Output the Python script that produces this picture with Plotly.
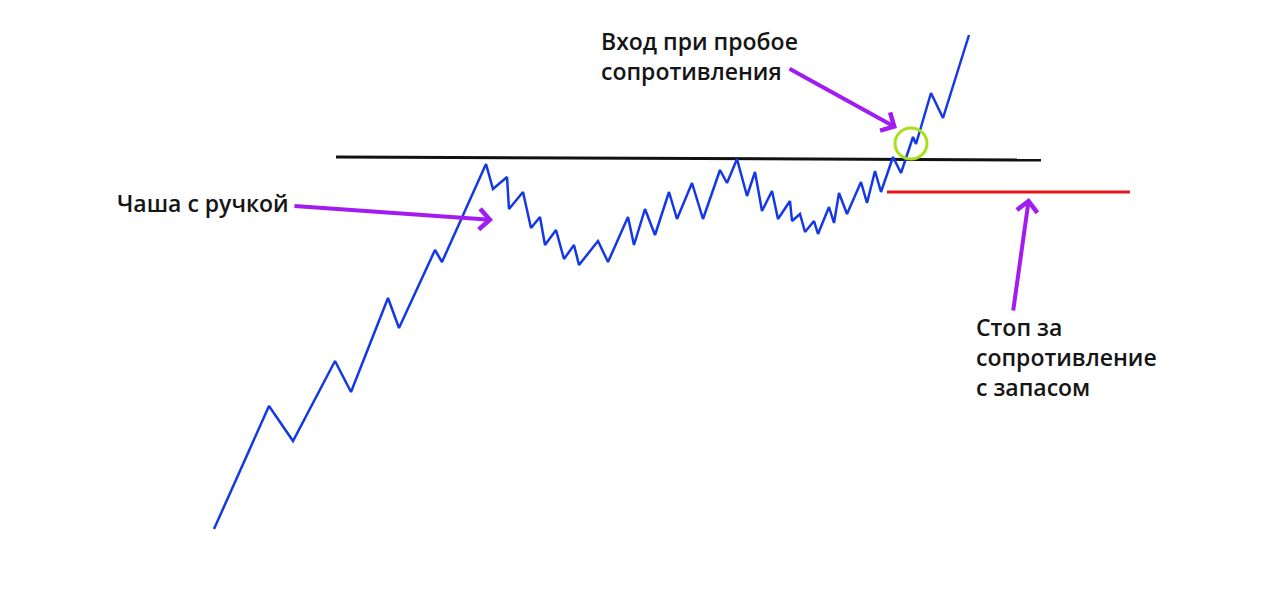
import plotly.graph_objects as go

# Price path vertices (chart pixel units)
price_x = [214, 269, 293, 335, 351, 388, 399, 435, 442, 486, 493, 507, 509, 523, 531, 540, 545,
           556, 564, 574, 579, 598, 608, 628, 634, 645, 655, 669, 677, 692, 703, 720, 727, 737,
           747, 755, 762, 772, 778, 790, 792, 800, 805, 814, 818, 829, 834, 839, 847, 861, 867,
           875, 881, 893, 901, 913, 916, 931, 943, 969]
price_y = [529, 406, 441, 361, 392, 298, 328, 250, 262, 164, 189, 177, 209, 192, 228, 217, 245,
           230, 259, 245, 265, 241, 262, 217, 245, 209, 235, 192, 219, 183, 219, 170, 183, 159,
           196, 172, 211, 191, 219, 201, 221, 214, 232, 221, 234, 207, 223, 193, 214, 182, 203,
           171, 192, 157, 173, 137, 144, 93, 118, 35]

resist_x = [336, 1041]
resist_y = [157, 160]
stop_x = [887, 1130]
stop_y = [192, 192]

label_cup = "Чаша с ручкой"
label_entry = ["Вход при пробое", "сопротивления"]
label_stop = ["Стоп за", "сопротивление", "с запасом"]

BLUE = "#1438e6"
PURPLE = "#a21cf2"
FONT = "Open Sans"

fig = go.Figure()
fig.add_trace(go.Scatter(x=resist_x, y=resist_y, mode="lines",
                         line=dict(color="#111111", width=3), hoverinfo="skip"))
fig.add_trace(go.Scatter(x=stop_x, y=stop_y, mode="lines",
                         line=dict(color="#e8141c", width=3), hoverinfo="skip"))
fig.add_trace(go.Scatter(x=price_x, y=price_y, mode="lines",
                         line=dict(color=BLUE, width=2.5), hoverinfo="skip"))

# breakout circle
fig.add_shape(type="circle", xref="x", yref="y", x0=895, x1=927, y0=128, y1=159,
              line=dict(color="#a6e01a", width=3))

# arrows
arrows = [((293, 206), (493, 220)),
          ((788, 68), (897, 128)),
          ((1013, 312), (1029, 198))]
for (tx, ty), (hx, hy) in arrows:
    fig.add_annotation(x=hx, y=hy, ax=tx, ay=ty, xref="x", yref="y", axref="x", ayref="y",
                       text="", showarrow=True, arrowhead=4, arrowsize=1.0,
                       arrowwidth=4, arrowcolor=PURPLE)

textfont = dict(family=FONT, size=23, color="#151515", weight=600)
fig.add_annotation(x=115, y=203, xref="x", yref="y", text=label_cup, showarrow=False,
                   xanchor="left", yanchor="middle", font=textfont)
for i, t in enumerate(label_entry):
    fig.add_annotation(x=599, y=41 + 30 * i, xref="x", yref="y", text=t, showarrow=False,
                       xanchor="left", yanchor="middle", font=textfont)
for i, t in enumerate(label_stop):
    fig.add_annotation(x=974, y=327 + 30 * i, xref="x", yref="y", text=t, showarrow=False,
                       xanchor="left", yanchor="middle", font=textfont)

fig.update_layout(width=1280, height=606, margin=dict(l=0, r=0, t=0, b=0),
                  paper_bgcolor="white", plot_bgcolor="white", showlegend=False,
                  xaxis=dict(range=[0, 1280], visible=False, fixedrange=True),
                  yaxis=dict(range=[606, 0], visible=False, fixedrange=True))
fig.write_html("out.html", config={"displayModeBar": False},
               post_script="document.body.style.margin='0';document.body.style.overflow='hidden';")
